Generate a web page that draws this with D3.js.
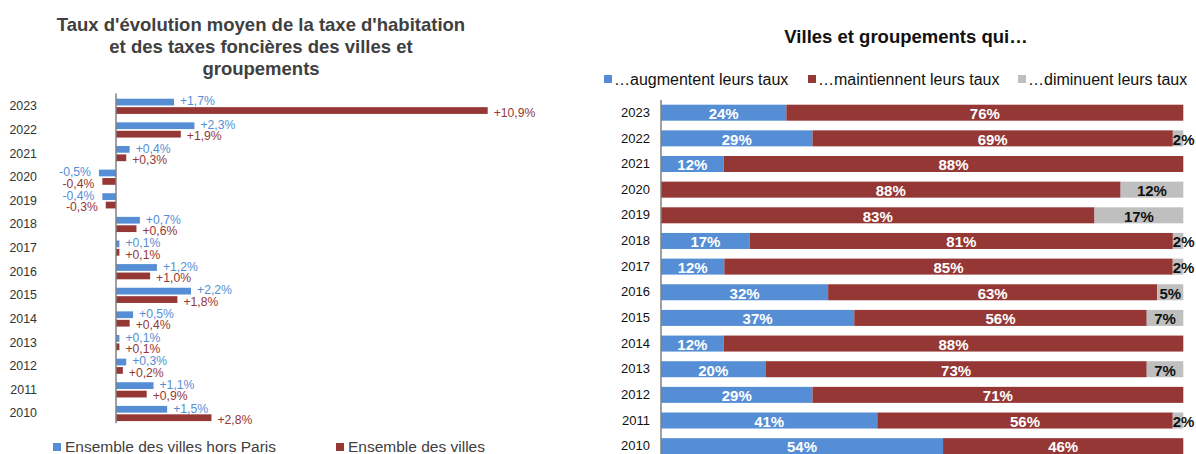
<!DOCTYPE html>
<html>
<head>
<meta charset="utf-8">
<script src="https://cdn.jsdelivr.net/npm/d3@7"></script>
<style>
  html, body { margin: 0; padding: 0; background: #fff; }
  svg { display: block; font-family: "Liberation Sans", Arial, sans-serif; }
</style>
</head>
<body>
<svg id="chart" width="1196" height="454"></svg>
<script>
// Data
const years = ['2023', '2022', '2021', '2020', '2019', '2018', '2017', '2016', '2015', '2014', '2013', '2012', '2011', '2010'];

// left chart: average change in rates (%)
const horsParis = [1.7, 2.3, 0.4, -0.5, -0.4, 0.7, 0.1, 1.2, 2.2, 0.5, 0.1, 0.3, 1.1, 1.5];
const ensemble = [10.9, 1.9, 0.3, -0.4, -0.3, 0.6, 0.1, 1.0, 1.8, 0.4, 0.1, 0.2, 0.9, 2.8];
const leftSeries = ['Ensemble des villes hors Paris', 'Ensemble des villes'];

// right chart: share of cities (%)
const augmentent = [24, 29, 12, 0, 0, 17, 12, 32, 37, 12, 20, 29, 41, 54];
const maintiennent = [76, 69, 88, 88, 83, 81, 85, 63, 56, 88, 73, 71, 56, 46];
const diminuent = [0, 2, 0, 12, 17, 2, 2, 5, 7, 0, 7, 0, 2, 0];
const rightSeries = ['…augmentent leurs taux', '…maintiennent leurs taux', '…diminuent leurs taux'];

const BLUE = '#558ed5', RED = '#953735', GRAY = '#bfbfbf';

const svg = d3.select('#chart');

// ---------- left chart ----------
const left = svg.append('g');

const titleLines = ["Taux d'évolution moyen de la taxe d'habitation", 'et des taxes foncières des villes et', 'groupements'];
left.append('text')
  .attr('text-anchor', 'middle')
  .attr('font-size', 18.5)
  .attr('font-weight', 'bold')
  .attr('fill', '#404040')
  .selectAll('tspan')
  .data(titleLines)
  .join('tspan')
  .attr('x', 261)
  .attr('y', (d, i) => 31 + i * 22)
  .text(d => d);

const xL = d3.scaleLinear().domain([-1, 11]).range([116 - 34.1, 116 + 34.1 * 11]);
const yL = d3.scaleBand().domain(years).range([94.5, 425.3]);
const bw = yL.bandwidth();
const ySub = d3.scaleBand().domain(leftSeries).range([(bw - 15.2) / 2, (bw + 15.2) / 2]).paddingInner(0.2);

const leftRows = years.map((y, i) => ({ year: y, vals: [horsParis[i], ensemble[i]] }));
const fmtL = v => (v > 0 ? '+' : '') + v.toFixed(1).replace('.', ',') + '%';

const rowsL = left.selectAll('g.rowL')
  .data(leftRows)
  .join('g')
  .attr('class', 'rowL')
  .attr('transform', d => `translate(0,${yL(d.year)})`);

const cellsL = rowsL.selectAll('g.cell')
  .data(d => d.vals.map((v, j) => ({ series: leftSeries[j], v, j })))
  .join('g')
  .attr('class', 'cell');

cellsL.append('rect')
  .attr('x', d => xL(Math.min(0, d.v)))
  .attr('y', d => ySub(d.series))
  .attr('width', d => Math.abs(xL(d.v) - xL(0)))
  .attr('height', ySub.bandwidth())
  .attr('fill', d => d.j === 0 ? BLUE : RED);

cellsL.append('text')
  .attr('x', d => d.v >= 0 ? xL(d.v) + 6 : xL(d.v) - 8)
  .attr('y', d => ySub(d.series) + ySub.bandwidth() / 2 + (d.j === 0 ? -1 : 2))
  .attr('dy', '0.35em')
  .attr('text-anchor', d => d.v >= 0 ? 'start' : 'end')
  .attr('font-size', 12.2)
  .attr('fill', d => d.j === 0 ? BLUE : RED)
  .text(d => fmtL(d.v));

// category axis (left)
const axL = left.append('g').attr('transform', `translate(${xL(0)},0)`)
  .call(d3.axisLeft(yL).tickSize(0).tickPadding(79));
axL.select('.domain').attr('stroke', '#808080').attr('stroke-width', 1.5)
  .attr('d', `M0,${yL.range()[0] - 1}V${yL.range()[1] - 2}`);
axL.selectAll('text').attr('font-size', 12.4).attr('fill', '#333').attr('font-family', null);

// left legend
const legL = left.append('g');
const legLpos = [53, 336];
leftSeries.forEach((s, i) => {
  legL.append('rect').attr('x', legLpos[i]).attr('y', 443).attr('width', 8).attr('height', 8)
    .attr('fill', i === 0 ? BLUE : RED);
  legL.append('text').attr('x', legLpos[i] + 12).attr('y', 452)
    .attr('font-size', 15.5).attr('fill', '#404040').text(s);
});

// ---------- right chart ----------
const right = svg.append('g');

right.append('text')
  .attr('x', 906).attr('y', 43)
  .attr('text-anchor', 'middle')
  .attr('font-size', 18.5)
  .attr('font-weight', 'bold')
  .attr('fill', '#111')
  .text('Villes et groupements qui…');

const legRpos = [604, 808, 1018];
const rColors = [BLUE, RED, GRAY];
rightSeries.forEach((s, i) => {
  right.append('rect').attr('x', legRpos[i]).attr('y', 75).attr('width', 8).attr('height', 8)
    .attr('fill', rColors[i]);
  right.append('text').attr('x', legRpos[i] + 10).attr('y', 85)
    .attr('font-size', 16).attr('fill', '#111').text(s);
});

const rightRows = years.map((y, i) => ({ year: y, a: augmentent[i], m: maintiennent[i], d: diminuent[i] }));
const stack = d3.stack().keys(['a', 'm', 'd']).offset(d3.stackOffsetExpand);
const layers = stack(rightRows);

const xR = d3.scaleLinear().domain([0, 1]).range([661, 1183.3]);
const yR = d3.scaleBand().domain(years).range([99.87, 459.0]).paddingInner(0.376).paddingOuter(0.188);

const layerG = right.selectAll('g.layer')
  .data(layers)
  .join('g')
  .attr('class', 'layer')
  .attr('fill', (d, i) => rColors[i]);

layerG.selectAll('rect')
  .data(d => d)
  .join('rect')
  .attr('x', d => xR(d[0]))
  .attr('y', d => yR(d.data.year))
  .attr('width', d => xR(d[1]) - xR(d[0]))
  .attr('height', yR.bandwidth());

const labelsR = [];
layers.forEach((layer, li) => {
  layer.forEach(d => {
    const v = d.data[layer.key];
    if (v > 0) labelsR.push({ li, v, x0: xR(d[0]), x1: xR(d[1]), year: d.data.year });
  });
});

right.selectAll('text.val')
  .data(labelsR)
  .join('text')
  .attr('class', 'val')
  .attr('y', d => yR(d.year) + yR.bandwidth() / 2)
  .attr('dy', '0.42em')
  .attr('text-anchor', 'middle')
  .attr('font-size', 15)
  .attr('font-weight', 'bold')
  .attr('fill', d => d.li === 2 ? '#111' : '#fff')
  .text(d => d.v + '%')
  .attr('x', function(d) {
    const c = (d.x0 + d.x1) / 2;
    if (d.li !== 2) return c;
    const w = this.getComputedTextLength();
    return Math.max(c, d.x0 + w / 2);
  });

// category axis (right)
const axR = right.append('g').attr('transform', `translate(${xR(0)},0)`)
  .call(d3.axisLeft(yR).tickSize(0).tickPadding(11));
axR.select('.domain').attr('stroke', '#808080').attr('stroke-width', 1.5)
  .attr('d', `M0,100V454`);
axR.selectAll('text').attr('font-size', 13).attr('fill', '#111').attr('font-family', null);
</script>
</body>
</html>
